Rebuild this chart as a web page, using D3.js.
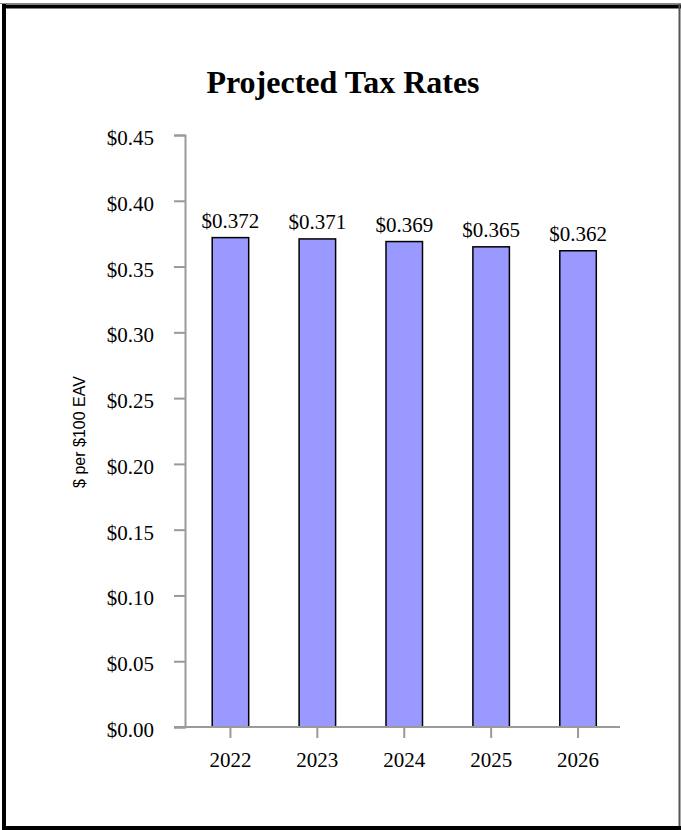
<!DOCTYPE html>
<html>
<head>
<meta charset="utf-8">
<script src="https://cdn.jsdelivr.net/npm/d3@7"></script>
<style>
  body { margin: 0; background: #fff; }
  svg { display: block; }
</style>
</head>
<body>
<div id="chart"></div>
<script>
// chart data
let years = ["2022", "2023", "2024", "2025", "2026"];
let rates = [0.372, 0.371, 0.369, 0.365, 0.362];
let rateLabels = ["$0.372", "$0.371", "$0.369", "$0.365", "$0.362"];
let yTicks = [0, 0.05, 0.10, 0.15, 0.20, 0.25, 0.30, 0.35, 0.40, 0.45];

let width = 681, height = 830;
let serif = "'Liberation Serif', 'Times New Roman', serif";
let axisColor = "#9a9a9a";

let svg = d3.select("#chart").append("svg")
	.attr("width", width)
	.attr("height", height);

// frame
svg.append("line").attr("x1", 0).attr("x2", width).attr("y1", 3.5).attr("y2", 3.5)
	.attr("stroke", "#888").attr("stroke-width", 1);
svg.append("line").attr("x1", 2).attr("x2", width).attr("y1", 6.5).attr("y2", 6.5)
	.attr("stroke", "#000").attr("stroke-width", 4);
svg.append("line").attr("x1", 4).attr("x2", 4).attr("y1", 4).attr("y2", height)
	.attr("stroke", "#000").attr("stroke-width", 4);
svg.append("line").attr("x1", 679.5).attr("x2", 679.5).attr("y1", 4).attr("y2", height)
	.attr("stroke", "#555").attr("stroke-width", 2);
svg.append("line").attr("x1", 2).attr("x2", width).attr("y1", 828).attr("y2", 828)
	.attr("stroke", "#000").attr("stroke-width", 4);

// title
svg.append("text")
	.attr("x", 343).attr("y", 93)
	.attr("text-anchor", "middle")
	.style("font-family", serif)
	.style("font-weight", "bold")
	.style("font-size", "32px")
	.text("Projected Tax Rates");

// scales
let x = d3.scaleBand().domain(years).range([187, 621.5]);
let y = d3.scaleLinear().domain([0, 0.45]).range([727, 135]);
let barW = x.bandwidth() * 0.42;

// y axis
let yAxis = svg.append("g")
	.attr("transform", "translate(185,0)")
	.call(d3.axisLeft(y).tickValues(yTicks).tickSize(11).tickPadding(20)
		.tickFormat((d) => "$" + d3.format(".2f")(d)));
yAxis.select(".domain").attr("stroke", axisColor).attr("stroke-width", 2);
yAxis.selectAll(".tick line").attr("stroke", axisColor).attr("stroke-width", 2);
yAxis.selectAll(".tick text")
	.attr("fill", "#000").attr("dy", "0.45em")
	.style("font-family", serif).style("font-size", "21px");

// bars
svg.selectAll("rect.bar")
	.data(rates)
	.enter()
	.append("rect")
	.attr("class", "bar")
	.attr("x", (d, i) => x(years[i]) + (x.bandwidth() - barW) / 2)
	.attr("y", (d) => y(d))
	.attr("width", barW)
	.attr("height", (d) => y(0) - y(d))
	.attr("fill", "#9999ff")
	.attr("stroke", "#000")
	.attr("stroke-width", 1.5);

// value labels
svg.selectAll("text.val")
	.data(rates)
	.enter()
	.append("text")
	.attr("class", "val")
	.attr("x", (d, i) => x(years[i]) + x.bandwidth() / 2)
	.attr("y", (d) => y(d) - 10)
	.attr("text-anchor", "middle")
	.style("font-family", serif)
	.style("font-size", "21px")
	.text((d, i) => rateLabels[i]);

// x axis
let xAxis = svg.append("g")
	.attr("transform", "translate(0,727)")
	.call(d3.axisBottom(x).tickSize(11).tickSizeOuter(0).tickPadding(14));
xAxis.select(".domain").attr("stroke", axisColor).attr("stroke-width", 2)
	.attr("d", "M174,0H620");
xAxis.selectAll(".tick line").attr("stroke", axisColor).attr("stroke-width", 2);
xAxis.selectAll(".tick text")
	.attr("fill", "#000")
	.style("font-family", serif).style("font-size", "21px");

// y axis title
svg.append("text")
	.attr("transform", "translate(85,432) rotate(-90)")
	.attr("text-anchor", "middle")
	.style("font-family", "'Liberation Sans', Arial, sans-serif")
	.style("font-size", "16px")
	.text("$ per $100 EAV");
</script>
</body>
</html>
